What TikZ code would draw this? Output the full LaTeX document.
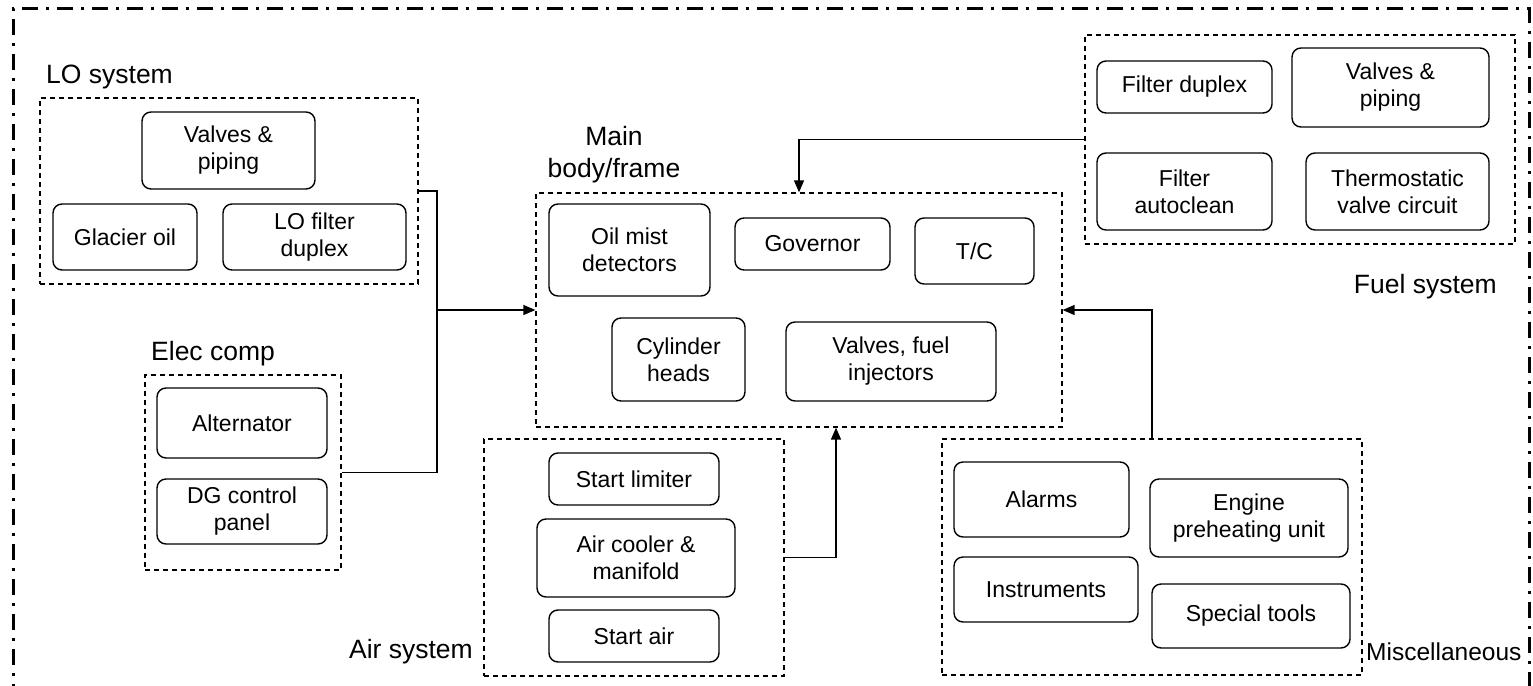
\documentclass[tikz,border=0pt]{standalone}
\usepackage{fontspec}
\setmainfont{Liberation Sans}
\usetikzlibrary{arrows.meta}
\begin{document}
\begin{tikzpicture}[x=1pt,y=-1pt,
  part/.style={draw,line width=1.4pt,rounded corners=9pt,align=center,inner sep=0pt,
    font=\fontsize{23}{27}\selectfont},
  group/.style={draw,line width=1.3pt,dash pattern=on 5pt off 4pt,inner sep=0pt},
  title/.style={inner sep=0pt,font=\fontsize{26.5}{31}\selectfont},
  link/.style={line width=1.4pt},
  arr/.style={link,-{Triangle[length=12pt,width=10pt]}}]
\useasboundingbox (0,0) rectangle (1533,685);
\clip (0,0) rectangle (1533,685);
% outer frame (open at the bottom edge)
\draw[line width=3pt,dash pattern=on 16pt off 8pt on 3pt off 8pt] (13,700) -- (13,9) -- (1529,9) -- (1529,700);

% LO system
\node[group,minimum width=378pt,minimum height=186pt] (lo) at (229,191) {};
\node[title,anchor=base west] (lot) at (46,84) {LO system};
\node[part,minimum width=173pt,minimum height=77pt] (lovp) at (228.5,150.5) {Valves \&\\piping};
\node[part,minimum width=144pt,minimum height=66pt] (glac) at (125,237) {Glacier oil};
\node[part,minimum width=183pt,minimum height=66pt] (lofd) at (314.5,237) {LO filter\\duplex};

% Electrical components
\node[group,minimum width=196pt,minimum height=195pt] (el) at (243,472.5) {};
\node[title,anchor=base west] (elt) at (151,360) {Elec comp};
\node[part,minimum width=170pt,minimum height=70pt] (alt) at (242,423) {Alternator};
\node[part,minimum width=170pt,minimum height=65pt] (dg) at (242,511.5) {DG control\\panel};

% Air system
\node[group,minimum width=300pt,minimum height=237pt] (air) at (634,557.5) {};
\node[title,anchor=base east] (airt) at (473,658) {Air system};
\node[part,minimum width=170pt,minimum height=52pt] (sl) at (634,479) {Start limiter};
\node[part,minimum width=198pt,minimum height=78pt] (ac) at (636,558) {Air cooler \&\\manifold};
\node[part,minimum width=170pt,minimum height=52pt] (sa) at (634,636) {Start air};

% Main body / frame
\node[group,minimum width=526pt,minimum height=234pt] (main) at (799,310) {};
\node[title,anchor=base] (mt1) at (614,145) {Main};
\node[title,anchor=base] (mt2) at (614,177) {body/frame};
\node[part,minimum width=161pt,minimum height=92pt] (oil) at (629.5,250) {Oil mist\\detectors};
\node[part,minimum width=155pt,minimum height=52pt] (gov) at (812.5,244) {Governor};
\node[part,minimum width=119pt,minimum height=66pt] (tc) at (974.5,251) {T/C};
\node[part,minimum width=133pt,minimum height=83pt] (cyl) at (678.5,359.5) {Cylinder\\heads};
\node[part,minimum width=210pt,minimum height=79pt] (vfi) at (891,361.5) {Valves, fuel\\injectors};

% Fuel system
\node[group,minimum width=430pt,minimum height=209pt] (fuel) at (1300,139.5) {};
\node[title,anchor=base east] (fuelt) at (1497,293) {Fuel system};
\node[part,minimum width=175pt,minimum height=52pt] (fd) at (1184.5,87) {Filter duplex};
\node[part,minimum width=197pt,minimum height=79pt] (fvp) at (1390.5,87.5) {Valves \&\\piping};
\node[part,minimum width=175pt,minimum height=77pt] (fa) at (1184.5,191.5) {Filter\\autoclean};
\node[part,minimum width=183pt,minimum height=77pt] (thv) at (1397.5,191.5) {Thermostatic\\valve circuit};

% Miscellaneous
\node[group,minimum width=420pt,minimum height=236pt] (misc) at (1152,557) {};
\node[title,anchor=base west,font=\fontsize{24.5}{31}\selectfont] (misct) at (1366,660) {Miscellaneous};
\node[part,minimum width=175pt,minimum height=75pt] (alm) at (1041.5,499.5) {Alarms};
\node[part,minimum width=198pt,minimum height=78pt] (eng) at (1249,518) {Engine\\preheating unit};
\node[part,minimum width=184pt,minimum height=65pt] (ins) at (1046,589.5) {Instruments};
\node[part,minimum width=198pt,minimum height=64pt] (spt) at (1251,616) {Special tools};

% connectors
\coordinate (join) at (437,310);
\draw[link] (lo.east) -| (join);
\draw[link] (el.east) -| (join);
\draw[arr] (join) -- (main.west);
\draw[arr] (fuel.west) -| (main.north);
\draw[arr] (misc.north) |- (main.east);
\draw[arr] (air.east) -| ([xshift=37pt]main.south);
\end{tikzpicture}
\end{document}
